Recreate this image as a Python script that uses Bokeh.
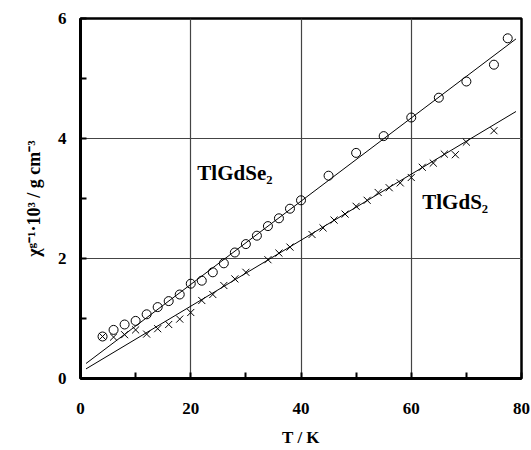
from bokeh.plotting import figure
from bokeh.models import Range1d, FixedTicker, Label
from bokeh.embed import file_html
from bokeh.resources import INLINE

# TlGdSe2 data (circles)
se_T = [4, 6, 8, 10, 12, 14, 16, 18, 20, 22, 24, 26, 28, 30, 32, 34, 36, 38, 40,
        45, 50, 55, 60, 65, 70, 75, 77.5]
se_v = [0.70, 0.81, 0.90, 0.96, 1.07, 1.19, 1.29, 1.40, 1.58, 1.63, 1.77, 1.92, 2.10,
        2.24, 2.38, 2.54, 2.67, 2.83, 2.97, 3.38, 3.76, 4.04, 4.35, 4.68, 4.95, 5.23, 5.67]

# TlGdS2 data (crosses)
s_T = [4, 6, 8, 10, 12, 14, 16, 18, 20, 22, 24, 26, 28, 30, 34, 36, 38, 42, 44, 46,
       48, 50, 52, 54, 56, 58, 60, 62, 64, 66, 68, 70, 75]
s_v = [0.70, 0.69, 0.73, 0.81, 0.74, 0.83, 0.90, 0.99, 1.10, 1.30, 1.40, 1.55, 1.66,
       1.77, 1.98, 2.09, 2.19, 2.40, 2.51, 2.64, 2.74, 2.87, 2.97, 3.10, 3.18, 3.26,
       3.35, 3.52, 3.59, 3.74, 3.73, 3.94, 4.13]

# Linear fits (end points)
se_fit_T = [1, 79]
se_fit_v = [0.25, 5.66]
s_fit_T = [1, 79]
s_fit_v = [0.16, 4.45]

x_major = [0, 20, 40, 60, 80]
x_minor = [10, 30, 50, 70]
y_major = [0, 2, 4, 6]
y_minor = [1, 3, 5]

FONT = "Liberation Serif"

p = figure(width=531, height=450, output_backend="svg", toolbar_location=None,
           x_range=Range1d(0, 80), y_range=Range1d(0, 6),
           min_border_left=80, min_border_right=10, min_border_top=18,
           min_border_bottom=72)

p.background_fill_color = "white"
p.border_fill_color = "white"
p.outline_line_color = "black"
p.outline_line_width = 2.5

xt = FixedTicker(ticks=x_major, minor_ticks=x_minor)
yt = FixedTicker(ticks=y_major, minor_ticks=y_minor)
p.xaxis.ticker = xt
p.yaxis.ticker = yt
p.xgrid.ticker = xt
p.ygrid.ticker = yt

for g in (p.xgrid, p.ygrid):
    g.grid_line_color = "#444444"
    g.grid_line_width = 1.2

for ax in (p.xaxis, p.yaxis):
    ax.axis_line_width = 3
    ax.axis_line_color = "black"
    ax.major_tick_in = 6
    ax.major_tick_out = 0
    ax.minor_tick_in = 6
    ax.minor_tick_out = 0
    ax.major_tick_line_width = 2
    ax.minor_tick_line_width = 2
    ax.major_label_text_font = FONT
    ax.major_label_text_font_style = "bold"
    ax.major_label_text_font_size = "17px"
    ax.major_label_text_color = "black"
    ax.axis_label_text_font = FONT
    ax.axis_label_text_font_style = "bold"
    ax.axis_label_text_font_size = "17px"
    ax.axis_label_text_color = "black"

p.xaxis.major_label_standoff = 24
p.yaxis.major_label_standoff = 14
p.xaxis.axis_label = "T / K"
p.xaxis.axis_label_standoff = 11
p.yaxis.axis_label = "χᵍ⁻¹·10³ / g cm⁻³"
p.yaxis.axis_label_text_font_size = "18px"
p.yaxis.axis_label_standoff = 11

# fit lines
p.line(se_fit_T, se_fit_v, line_color="black", line_width=1)
p.line(s_fit_T, s_fit_v, line_color="black", line_width=1)

# data points
p.scatter(se_T, se_v, marker="circle", size=9, fill_color=None,
          line_color="black", line_width=1)
p.scatter(s_T, s_v, marker="x", size=10, line_color="black", line_width=1)

p.add_layout(Label(x=21.2, y=3.42, text="TlGdSe₂", text_font=FONT,
                   text_font_style="bold", text_font_size="21px",
                   text_baseline="middle", text_align="left", text_color="black"))
p.add_layout(Label(x=62.0, y=2.95, text="TlGdS₂", text_font=FONT,
                   text_font_style="bold", text_font_size="21px",
                   text_baseline="middle", text_align="left", text_color="black"))

open("out.html", "w").write(file_html(p, INLINE))
